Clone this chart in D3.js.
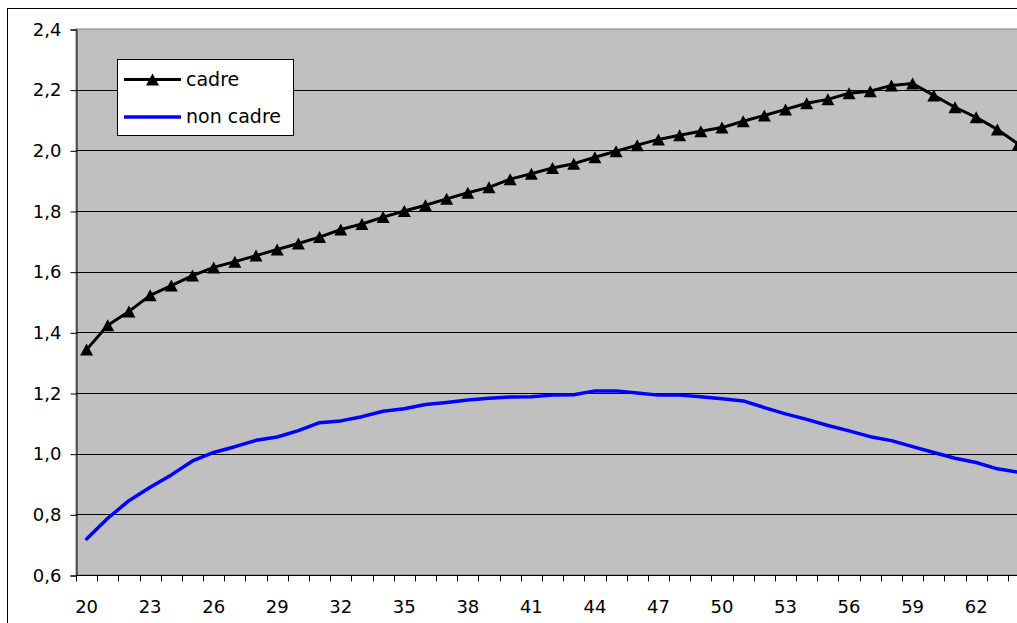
<!DOCTYPE html>
<html>
<head>
<meta charset="utf-8">
<script src="https://cdn.jsdelivr.net/npm/d3@7"></script>
<style>
  html, body { margin: 0; padding: 0; background: #fff; overflow: hidden; }
  svg { display: block; }
  text { font-family: "DejaVu Sans", "Open Sans", sans-serif; fill: #000; }
</style>
</head>
<body>
<svg id="chart" width="1017" height="623"></svg>
<script>
// Age categories (x axis)
const ages = d3.range(20, 65);

// Series values, one per age
const cadre = [
  1.343, 1.423, 1.469, 1.522, 1.554, 1.587, 1.614, 1.633, 1.653, 1.673,
  1.693, 1.714, 1.739, 1.757, 1.780, 1.800, 1.819, 1.840, 1.860, 1.878,
  1.905, 1.923, 1.942, 1.956, 1.977, 1.997, 2.017, 2.036, 2.050, 2.063,
  2.075, 2.096, 2.115, 2.135, 2.155, 2.168, 2.188, 2.195, 2.214, 2.220,
  2.181, 2.142, 2.109, 2.069, 2.020
];
const nonCadre = [
  0.719, 0.787, 0.845, 0.889, 0.930, 0.976, 1.004, 1.023, 1.044, 1.055,
  1.076, 1.102, 1.108, 1.122, 1.140, 1.148, 1.162, 1.169, 1.177, 1.183,
  1.187, 1.188, 1.193, 1.194, 1.207, 1.207, 1.200, 1.193, 1.193, 1.188,
  1.181, 1.174, 1.152, 1.131, 1.113, 1.093, 1.075, 1.056, 1.043, 1.023,
  1.004, 0.985, 0.971, 0.950, 0.939
];

// Axis tick labels
const yTicks = [0.6, 0.8, 1.0, 1.2, 1.4, 1.6, 1.8, 2.0, 2.2, 2.4];
const xTickLabels = d3.range(20, 65, 3);

const series = [
  { name: "cadre", values: cadre, color: "#000000", width: 3, marker: true },
  { name: "non cadre", values: nonCadre, color: "#0000FF", width: 3.5, marker: false }
];

const svg = d3.select("#chart");

const plot = { left: 76, top: 29, bottom: 575, step: 21.18 };
plot.right = plot.left + ages.length * plot.step;

const x = d3.scaleBand().domain(ages).range([plot.left, plot.right]).paddingInner(0).paddingOuter(0);
const y = d3.scaleLinear().domain([0.6, 2.4]).range([plot.bottom, plot.top]);
const cx = a => x(a) + x.bandwidth() / 2;
const fmt = v => d3.format(".1f")(v).replace(".", ",");

// Chart frame
svg.append("rect")
  .attr("x", 7.5).attr("y", 8.5)
  .attr("width", 1100).attr("height", 700)
  .attr("fill", "#fff").attr("stroke", "#000").attr("stroke-width", 1);

// Plot area
svg.append("rect")
  .attr("x", plot.left).attr("y", plot.top)
  .attr("width", plot.right - plot.left).attr("height", plot.bottom - plot.top)
  .attr("fill", "#C0C0C0").attr("stroke", "#808080").attr("stroke-width", 1);

// Horizontal gridlines
svg.append("g").selectAll("line")
  .data(yTicks.filter(v => v > 0.6 && v < 2.4))
  .join("line")
  .attr("x1", plot.left).attr("x2", plot.right)
  .attr("y1", d => Math.round(y(d)) + 0.5).attr("y2", d => Math.round(y(d)) + 0.5)
  .attr("stroke", "#000").attr("stroke-width", 1);

// Y axis
const yAxis = svg.append("g")
  .attr("transform", `translate(${plot.left + 0.5},0.5)`)
  .call(d3.axisLeft(y).tickValues(yTicks).tickFormat(fmt).tickSize(6).tickPadding(9));
yAxis.select(".domain").attr("stroke", "#000");
yAxis.selectAll(".tick line").attr("stroke", "#000");
yAxis.selectAll("text").style("font-size", "18px").attr("font-family", "DejaVu Sans");

// X axis: ticks at category boundaries, labels every third category
const xAxis = svg.append("g").attr("transform", `translate(0,${plot.bottom + 0.5})`);
xAxis.append("line")
  .attr("x1", plot.left).attr("x2", plot.right)
  .attr("stroke", "#000");
xAxis.selectAll("line.tk")
  .data(ages.concat([null]))
  .join("line").attr("class", "tk")
  .attr("x1", d => Math.round(d === null ? plot.right : x(d)) + 0.5)
  .attr("x2", d => Math.round(d === null ? plot.right : x(d)) + 0.5)
  .attr("y1", 0).attr("y2", 6)
  .attr("stroke", "#000");
xAxis.selectAll("text")
  .data(xTickLabels)
  .join("text")
  .attr("x", d => cx(d))
  .attr("y", 37.5)
  .attr("text-anchor", "middle")
  .style("font-size", "18px")
  .text(d => d);

// Series lines
const line = d3.line().x((d, i) => cx(ages[i])).y(d => y(d));
series.forEach(s => {
  svg.append("path")
    .datum(s.values)
    .attr("d", line)
    .attr("fill", "none")
    .attr("stroke", s.color)
    .attr("stroke-width", s.width)
    .attr("stroke-linejoin", "round")
    .attr("stroke-linecap", "round");
});

// Triangle marker, centred in its bounding box
const tri = "M0,-6L6.5,6L-6.5,6Z";
svg.append("g").selectAll("path")
  .data(cadre)
  .join("path")
  .attr("transform", (d, i) => `translate(${cx(ages[i])},${y(d)})`)
  .attr("d", tri)
  .attr("fill", "#000");

// Legend
const lg = svg.append("g");
lg.append("rect")
  .attr("x", 117.5).attr("y", 59.5).attr("width", 176).attr("height", 76)
  .attr("fill", "#fff").attr("stroke", "#000").attr("stroke-width", 1);
series.forEach((s, i) => {
  const ly = 79.5 + i * 37.5;
  lg.append("line")
    .attr("x1", 124).attr("x2", 181).attr("y1", ly).attr("y2", ly)
    .attr("stroke", s.color).attr("stroke-width", s.width);
  if (s.marker) {
    lg.append("path").attr("transform", `translate(152.5,${ly})`).attr("d", tri).attr("fill", "#000");
  }
  lg.append("text")
    .attr("x", 186).attr("y", ly).attr("dy", "0.33em")
    .style("font-size", "19px")
    .text(s.name);
});
</script>
</body>
</html>
